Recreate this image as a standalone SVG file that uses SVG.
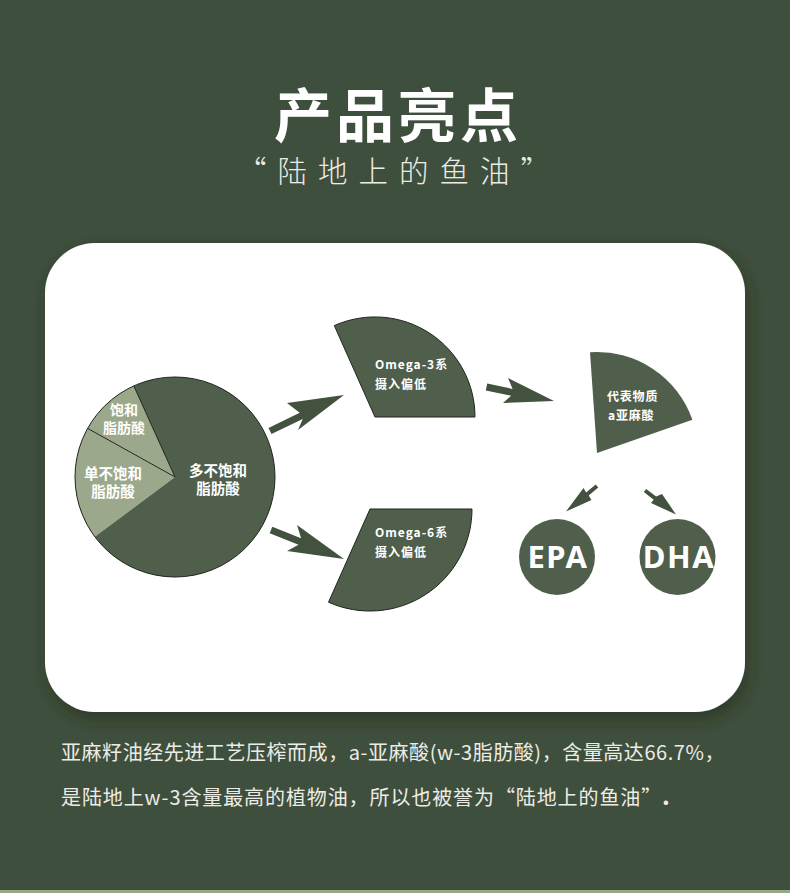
<svg xmlns="http://www.w3.org/2000/svg" width="790" height="893" viewBox="0 0 790 893">
<defs>
<filter id="shadow" x="-10%" y="-10%" width="120%" height="130%">
<feDropShadow dx="3" dy="7" stdDeviation="8" flood-color="#1c2619" flood-opacity="0.55"/>
</filter>
<style>
.cjk{font-family:"Noto Sans CJK SC","Noto Sans",sans-serif}
.lbl{font-family:"Noto Sans CJK SC","Noto Sans",sans-serif;font-weight:700;fill:#ffffff}
.dark{fill:#505f4c}
.light{fill:#9ba88b}
.arrow{fill:#43523f}
.edge{stroke:#1f271d;stroke-width:1;fill:none}
</style>
</defs>
<rect x="0" y="0" width="790" height="893" fill="#3f4f3d"/>
<rect x="0" y="890" width="790" height="3" fill="#97a887"/>
<text x="398" y="137" text-anchor="middle" class="cjk" font-size="58" font-weight="700" letter-spacing="4" fill="#ffffff">产品亮点</text>
<text x="399" y="182" text-anchor="middle" class="cjk" font-size="29.5" font-weight="300" letter-spacing="11" fill="#ecece6">“陆地上的鱼油”</text>
<rect id="card" x="45" y="243" width="700" height="469" rx="50" ry="50" fill="#ffffff" filter="url(#shadow)"/>
<g id="pie">
<path class="light" d="M175,477 L133.8,385.9 A100,100 0 0 0 87.6,428.4 Z"/>
<path class="light" d="M175,477 L87.6,428.4 A100,100 0 0 0 94.8,536.8 Z"/>
<path class="dark" d="M175,477 L94.8,536.8 A100,100 0 1 0 133.8,385.9 Z"/>
<path class="edge" d="M133.8,385.9 L175,477 L87.6,428.4"/>
<circle class="edge" cx="175" cy="477" r="100"/>
<text class="lbl" font-size="14" text-anchor="middle"><tspan x="124" y="415">饱和</tspan><tspan x="124" y="433">脂肪酸</tspan></text>
<text class="lbl" font-size="14.5" text-anchor="middle"><tspan x="113" y="479">单不饱和</tspan><tspan x="113" y="497">脂肪酸</tspan></text>
<text class="lbl" font-size="14.5" text-anchor="middle"><tspan x="218" y="476">多不饱和</tspan><tspan x="218" y="494">脂肪酸</tspan></text>
</g>
<g id="omega3">
<path class="dark" d="M375,417 L475,417 A100,100 0 0 0 334.3,325.6 Z" stroke="#1f271d" stroke-width="1"/>
<text class="lbl" font-size="12" letter-spacing="1"><tspan x="375" y="369">Omega-3系</tspan><tspan x="375" y="389">摄入偏低</tspan></text>
</g>
<g id="omega6">
<path class="dark" d="M370,509 L472,509 A102,102 0 0 1 328.5,602.2 Z" stroke="#1f271d" stroke-width="1"/>
<text class="lbl" font-size="12" letter-spacing="1"><tspan x="375" y="537">Omega-6系</tspan><tspan x="375" y="557">摄入偏低</tspan></text>
</g>
<g id="representative">
<path class="dark" d="M597,453 L590,352.2 A101,101 0 0 1 692.4,419.8 Z"/>
<text class="lbl" font-size="12" letter-spacing="0.8"><tspan x="607" y="401">代表物质</tspan><tspan x="608" y="420">a亚麻酸</tspan></text>
</g>
<g id="epa">
<circle class="dark" cx="557" cy="557" r="38"/>
<text x="558" y="568" text-anchor="middle" font-family="'Noto Sans','Open Sans',sans-serif" font-weight="700" font-size="31" letter-spacing="1.5" fill="#ffffff">EPA</text>
</g>
<g id="dha">
<circle class="dark" cx="677.5" cy="557" r="38"/>
<text x="679" y="568" text-anchor="middle" font-family="'Noto Sans','Open Sans',sans-serif" font-weight="700" font-size="31" letter-spacing="1.5" fill="#ffffff">DHA</text>
</g>
<g id="connectors">
<polygon class="arrow" points="268.5,427.9 299.7,412.7 287,403 344,395 298,430 302.7,419 271.5,434.1"/>
<polygon class="arrow" points="272.3,526.7 301.1,538.2 297,525 344,559 287,551 298.5,544.8 269.7,533.3"/>
<polygon class="arrow" points="487.2,383.6 512.6,388.9 508,378 554,401 503,403 511.2,395.7 485.8,390.4"/>
<polygon class="arrow" points="595.7,484.5 586.1,492.4 583.5,488 566,511.5 591.5,500 588.7,495.5 598.3,487.6"/>
<polygon class="arrow" points="646.2,488.9 656.1,496.6 662,494 676,514.5 651,503 653.7,499.8 643.8,492.1"/>
</g>
<g id="paragraph" class="cjk" font-size="20" fill="#ecece6">
<text x="61" y="759.5" letter-spacing="0.55">亚麻籽油经先进工艺压榨而成，a-亚麻酸(w-3脂肪酸)，含量高达66.7%，</text>
<text x="61" y="805" letter-spacing="0.9">是陆地上w-3含量最高的植物油，所以也被誉为“陆地上的鱼油”<tspan font-weight="700" font-size="24">.</tspan></text>
</g>
</svg>
